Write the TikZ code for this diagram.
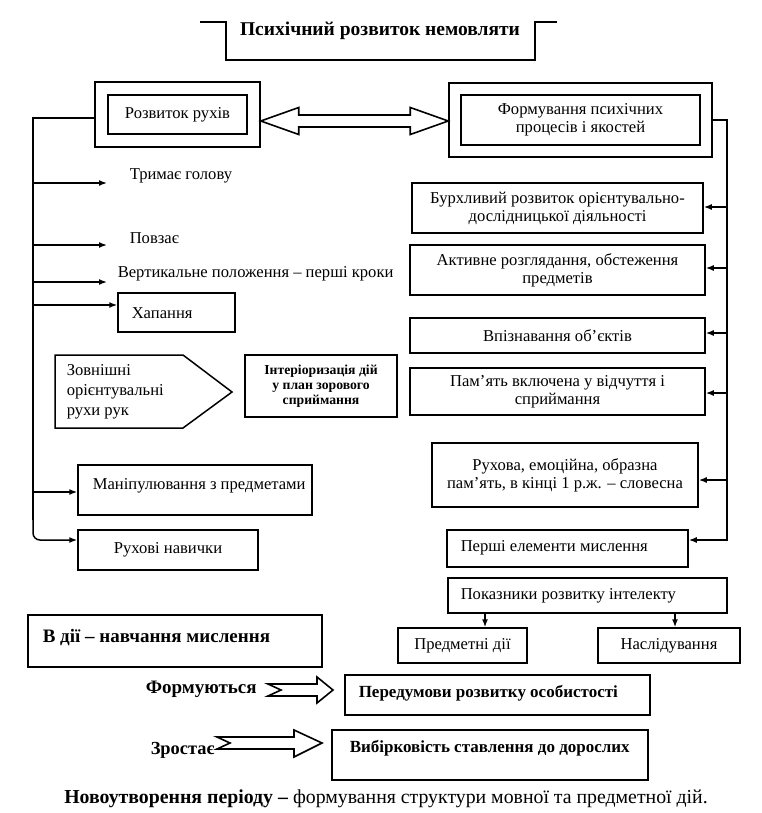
\documentclass[tikz,border=0pt]{standalone}
\usepackage{fontspec}
\setmainfont{Liberation Serif}
\usetikzlibrary{arrows.meta,calc}
\newcommand\fr{\fontsize{16.6}{18}\selectfont}
\newcommand\fb{\fontsize{17}{19}\selectfont\bfseries}
\newcommand\fbb{\fontsize{19}{21}\selectfont\bfseries}
\newcommand\bbox[7]{\node[bx,#6,minimum width={#4-#2},minimum height={#5-#3}] (#1) at ({(#2+#4)/2},{(#3+#5)/2}) {#7};}
\begin{document}
\begin{tikzpicture}[x=1pt,y=-1pt,line width=1.5pt,
  bx/.style={draw,rectangle,inner sep=0pt,align=center,font=\fr},
  txt/.style={inner sep=0pt,anchor=west,font=\fr,align=left},
  btxt/.style={inner sep=0pt,anchor=west,font=\fb,align=left},
  arr/.style={-{Latex[length=8pt,width=6pt]},line width=1.5pt},
  hollow/.style={line width=1.6pt,line join=miter}]
\useasboundingbox (0,0) rectangle (761,813);
% title
\node[inner sep=0pt,font=\fontsize{19.5}{21}\selectfont\bfseries] (title) at (380,31) {Психічний розвиток немовляти};
\draw (200,22) -- (226,22) -- (226,60) -- (535,60) -- (535,22) -- (557,22);
% top boxes
\bbox{rozvO}{95}{82}{260}{147}{}{}
\bbox{rozvI}{108}{95}{247}{134}{}{Розвиток рухів}
\bbox{formO}{449}{83}{712}{157}{}{}
\bbox{formI}{461}{95}{700}{145}{}{Формування психічних\\процесів і якостей}
% double hollow arrow
\coordinate (dl) at (rozvO.east |- 0,121);
\coordinate (dr) at (formO.west |- 0,121);
\draw[hollow] (dl) -- ++(38,-13.5) -- ++(0,7.5) -- ($(dr)+(-38,-6)$) -- ++(0,-7.5) -- (dr)
  -- ++(-38,13.5) -- ++(0,-7.5) -- ($(dl)+(38,6)$) -- ++(0,7.5) -- cycle;
% left tree
\coordinate (ltop) at (33,118);
\coordinate (lbot) at (33,540);
\draw (rozvO.west |- ltop) -- (ltop) -- (33,520);
\node[txt] (tr) at (129,176) {Тримає голову};
\node[txt] (pv) at (129,238) {Повзає};
\node[txt] (vp) at (117,274) {Вертикальне положення – перші кроки};
\bbox{hap}{118}{293}{235}{332}{}{}
\node[txt] (hapt) at (131,313) {Хапання};
\coordinate (a1) at (107,183);
\coordinate (a2) at (107,245);
\coordinate (a3) at (107,282);
\draw[arr] (ltop |- a1) -- (a1);
\draw[arr] (ltop |- a2) -- (a2);
\draw[arr] (ltop |- a3) -- (a3);
\draw[arr] (33,305) -- (hap.west |- 0,305);
% zovnishni
\draw (55,355) -- (183,355) -- (232,392) -- (183,428) -- (55,428) -- cycle;
\node[txt,font=\fontsize{16.6}{20}\selectfont] (zovn) at (66,392) {Зовнішні\\орієнтувальні\\рухи рук};
\bbox{inter}{245}{355}{397}{417}{font=\fontsize{13.7}{15}\selectfont\bfseries}{Інтеріоризація дій\\у план зорового\\сприймання}
\bbox{manip}{78}{465}{312}{515}{}{}
\node[txt] (manipt) at (92,486) {Маніпулювання з предметами};
\bbox{rukh}{78}{530}{258}{570}{}{Рухові навички}
\draw[arr] (33,492) -- (manip.west |- 0,492);
\draw[arr,rounded corners=7pt] (33,515) -- (lbot) -- (rukh.west |- lbot);
% right column
\bbox{burkh}{412}{183}{703}{233}{}{Бурхливий розвиток орієнтувально-\\дослідницької діяльності}
\bbox{aktyv}{410}{245}{705}{295}{}{Активне розглядання, обстеження\\предметів}
\bbox{vpizn}{410}{318}{705}{353}{}{Впізнавання об’єктів}
\bbox{pamyat}{410}{368}{705}{415}{}{Пам’ять включена у відчуття і\\сприймання}
\bbox{rukhova}{432}{443}{698}{507}{}{Рухова, емоційна, образна\\пам’ять, в кінці 1 р.ж. – словесна}
\bbox{pershi}{447}{530}{688}{567}{}{}
\node[txt] (pershit) at (460,548) {Перші елементи мислення};
\bbox{pokaz}{448}{578}{727}{613}{}{}
\node[txt] (pokazt) at (460,596) {Показники розвитку інтелекту};
\bbox{predm}{398}{628}{527}{663}{}{Предметні дії}
\bbox{nasl}{598}{628}{740}{663}{}{Наслідування}
\coordinate (rtop) at (727,120);
\coordinate (rbot) at (727,540);
\draw[arr] (formO.east |- rtop) -- (rtop) -- (rbot) -- (pershi.east |- rbot);
\draw[arr] (727,207) -- (burkh.east |- 0,207);
\draw[arr] (727,268) -- (aktyv.east |- 0,268);
\draw[arr] (727,333) -- (vpizn.east |- 0,333);
\draw[arr] (727,393) -- (pamyat.east |- 0,393);
\draw[arr] (727,480) -- (rukhova.east |- 0,480);
\draw[arr] (pokaz.south -| 485,0) -- (predm.north -| 485,0);
\draw[arr] (pokaz.south -| 675,0) -- (nasl.north -| 675,0);
% bottom
\bbox{vdii}{28}{615}{322}{667}{}{}
\node[btxt,font=\fbb] (vdiit) at (42,638) {В дії – навчання мислення};
\node[btxt,font=\fbb] (form) at (145,689) {Формуються};
\bbox{pered}{345}{675}{650}{715}{}{}
\node[btxt] (peredt) at (358,693) {Передумови розвитку особистості};
\node[btxt,font=\fontsize{18.4}{20}\selectfont\bfseries] (zrost) at (150,750) {Зростає};
\bbox{vybir}{332}{730}{648}{780}{}{}
\node[btxt] (vybirt) at (349,748) {Вибірковість ставлення до дорослих};
\draw[hollow] (268,684) -- (317,684) -- (317,677) -- (333,690) -- (317,703) -- (317,696) -- (268,696) -- (281,690) -- cycle;
\draw[hollow] (217,737) -- (294,737) -- (294,730) -- (322,743) -- (294,757) -- (294,749) -- (217,749) -- (230,743) -- cycle;
\node[inner sep=0pt,font=\fontsize{19.8}{21}\selectfont] (novo) at (386,799) {\textbf{Новоутворення періоду –} формування структури мовної та предметної дій.};
\end{tikzpicture}
\end{document}
